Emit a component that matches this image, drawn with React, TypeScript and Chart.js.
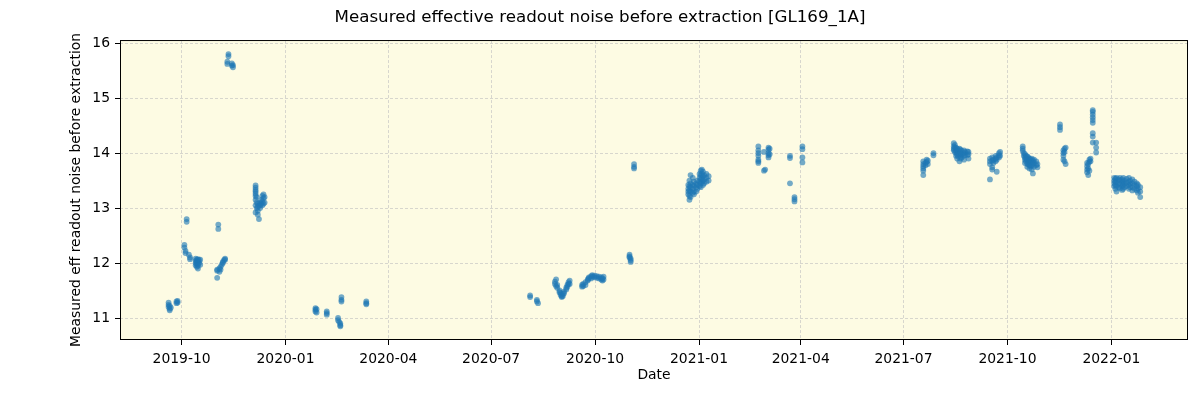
import React, { useEffect, useRef } from "react";
import { Chart, registerables } from "chart.js";

Chart.register(...registerables);

const chartTitle = "Measured effective readout noise before extraction [GL169_1A]";
const xAxisTitle = "Date";
const yAxisTitle = "Measured eff readout noise before extraction";

const xTickLabels = [
  "2019-10", "2020-01", "2020-04", "2020-07", "2020-10",
  "2021-01", "2021-04", "2021-07", "2021-10", "2022-01",
];
const yTickValues = [11, 12, 13, 14, 15, 16];
const xRange = ["2019-08-07T12:00", "2022-03-09T19:00"];
const yRange = [10.6, 16.055];

// one entry per observing night
const obsDates = [
  "2019-09-19", "2019-09-20", "2019-09-21", "2019-09-26", "2019-09-27",
  "2019-10-03", "2019-10-04", "2019-10-05", "2019-10-07", "2019-10-08",
  "2019-10-13", "2019-10-14", "2019-10-15", "2019-10-16", "2019-10-17",
  "2019-11-01", "2019-11-02", "2019-11-03", "2019-11-04", "2019-11-05",
  "2019-11-06", "2019-11-07", "2019-11-08", "2019-11-10", "2019-11-11",
  "2019-11-14", "2019-11-15",
  "2019-12-05", "2019-12-06", "2019-12-07", "2019-12-08", "2019-12-09",
  "2019-12-10", "2019-12-11", "2019-12-12", "2019-12-13",
  "2020-01-27", "2020-01-28", "2020-02-06", "2020-02-16", "2020-02-17",
  "2020-02-18", "2020-02-19", "2020-03-12",
  "2020-08-04", "2020-08-10", "2020-08-11", "2020-08-26", "2020-08-27",
  "2020-08-28", "2020-08-30", "2020-08-31", "2020-09-01", "2020-09-02",
  "2020-09-03", "2020-09-05", "2020-09-06", "2020-09-07", "2020-09-08",
  "2020-09-19", "2020-09-20", "2020-09-22", "2020-09-24", "2020-09-25",
  "2020-09-27", "2020-09-28", "2020-09-30", "2020-10-02", "2020-10-04",
  "2020-10-06", "2020-10-07", "2020-10-08", "2020-10-31", "2020-11-01",
  "2020-11-04",
  "2020-12-22", "2020-12-23", "2020-12-24", "2020-12-26", "2020-12-27",
  "2020-12-29", "2020-12-30", "2021-01-01", "2021-01-02", "2021-01-03",
  "2021-01-04", "2021-01-05", "2021-01-07", "2021-01-09",
  "2021-02-22", "2021-02-27", "2021-02-28", "2021-03-03", "2021-03-04",
  "2021-03-22", "2021-03-26", "2021-04-02",
  "2021-07-18", "2021-07-20", "2021-07-21", "2021-07-22", "2021-07-27",
  "2021-08-14", "2021-08-15", "2021-08-16", "2021-08-17", "2021-08-18",
  "2021-08-19", "2021-08-20", "2021-08-21", "2021-08-23", "2021-08-24",
  "2021-08-26", "2021-08-27",
  "2021-09-15", "2021-09-17", "2021-09-18", "2021-09-20", "2021-09-21",
  "2021-09-23", "2021-09-24",
  "2021-10-14", "2021-10-15", "2021-10-16", "2021-10-17", "2021-10-18",
  "2021-10-19", "2021-10-20", "2021-10-21", "2021-10-22", "2021-10-23",
  "2021-10-24", "2021-10-26", "2021-10-27",
  "2021-11-16", "2021-11-19", "2021-11-20", "2021-11-21",
  "2021-12-10", "2021-12-11", "2021-12-12", "2021-12-13", "2021-12-15",
  "2021-12-18",
  "2022-01-03", "2022-01-04", "2022-01-05", "2022-01-07", "2022-01-08",
  "2022-01-10", "2022-01-11", "2022-01-12", "2022-01-14", "2022-01-16",
  "2022-01-17", "2022-01-19", "2022-01-21", "2022-01-23", "2022-01-24",
  "2022-01-26",
];

// measured noise values of each night, same order as obsDates
const noiseByNight = [
  [11.28, 11.24, 11.2], [11.22, 11.17, 11.14], [11.19], [11.3, 11.27], [11.31, 11.28],
  [12.33, 12.28], [12.22, 12.18], [12.8, 12.75], [12.15], [12.1, 12.07],
  [12.08, 12.04, 12.0, 11.96], [12.06, 12.02, 11.98, 11.93], [12.07, 12.03, 11.99, 11.95, 11.9], [12.05, 12.0], [12.06, 11.97],
  [11.88, 11.86, 11.73], [12.7, 12.62], [11.9, 11.84], [11.93, 11.88], [11.97],
  [12.0, 12.02], [12.05], [12.08, 12.06], [15.66, 15.62], [15.8, 15.76],
  [15.63, 15.59], [15.6, 15.56],
  [13.41, 13.37, 13.33, 13.3, 13.26, 13.22, 13.15, 13.05, 12.92], [13.2, 13.1, 13.0], [13.08, 13.02, 12.95, 12.88], [13.05, 12.8], [13.1, 13.05, 13.0],
  [13.15, 13.08], [13.22, 13.12, 13.05], [13.25, 13.18, 13.08], [13.2, 13.1],
  [11.18, 11.15, 11.12], [11.16, 11.1], [11.12, 11.09, 11.06], [11.0, 10.96], [10.93],
  [10.9, 10.87, 10.85], [11.38, 11.33, 11.3], [11.3, 11.27, 11.25],
  [11.41, 11.38], [11.33, 11.3], [11.27], [11.66, 11.62], [11.7, 11.58],
  [11.6, 11.55], [11.5, 11.47], [11.45, 11.42], [11.4, 11.38], [11.44, 11.4],
  [11.48, 11.45], [11.55, 11.52], [11.6, 11.57], [11.62, 11.65], [11.68, 11.62],
  [11.6, 11.57], [11.62, 11.58], [11.6, 11.65], [11.7, 11.68], [11.74, 11.72],
  [11.76, 11.72], [11.78, 11.75], [11.77, 11.74], [11.76, 11.73], [11.75, 11.72],
  [11.74, 11.7], [11.72, 11.68], [11.75, 11.7], [12.15, 12.12, 12.1], [12.08, 12.05, 12.02],
  [13.8, 13.75, 13.72],
  [13.42, 13.35, 13.3, 13.25], [13.5, 13.4, 13.32, 13.22, 13.15], [13.6, 13.45, 13.38, 13.3, 13.2], [13.55, 13.42, 13.35, 13.28], [13.48, 13.4, 13.3, 13.25],
  [13.45, 13.38, 13.3], [13.5, 13.42, 13.35], [13.62, 13.55, 13.48, 13.4], [13.68, 13.6, 13.52, 13.45, 13.38], [13.7, 13.62, 13.55, 13.48],
  [13.66, 13.58, 13.5, 13.42], [13.6, 13.52, 13.45], [13.62, 13.55, 13.48], [13.58, 13.5],
  [14.12, 14.05, 14.0, 13.95, 13.88, 13.85, 13.82], [14.02, 13.68], [13.7], [14.1, 14.06, 14.0, 13.96, 13.92], [14.08, 13.98],
  [13.95, 13.91, 13.45], [13.2, 13.16, 13.12], [14.12, 14.07, 13.92, 13.83],
  [13.85, 13.8, 13.76, 13.72, 13.68, 13.6], [13.82, 13.78], [13.88, 13.84], [13.8, 13.86], [14.0, 13.96],
  [14.18, 14.12, 14.08, 14.05], [14.15, 14.1, 14.02], [14.1, 14.05, 14.0, 13.95], [14.08, 14.02, 13.97, 13.9], [14.05, 14.0, 13.94],
  [14.08, 13.98, 13.85], [14.06, 14.0, 13.95, 13.9], [14.04, 13.98, 13.92], [14.05, 14.0, 13.95, 13.88], [14.02, 13.97],
  [14.03, 13.96], [14.02, 13.98, 13.9],
  [13.9, 13.85, 13.8, 13.52], [13.92, 13.86, 13.74, 13.7], [13.88, 13.82], [13.95, 13.9, 13.85], [13.92, 13.88, 13.66],
  [14.0, 13.96, 13.92], [14.02, 13.95],
  [14.12, 14.08, 14.04], [14.0, 13.95], [13.98, 13.92, 13.88, 13.82], [13.95, 13.9, 13.85], [13.94, 13.88, 13.8, 13.75],
  [13.92, 13.86, 13.8], [13.9, 13.84, 13.78, 13.72], [13.88, 13.82, 13.76], [13.9, 13.85, 13.78, 13.7], [13.86, 13.8, 13.63],
  [13.88, 13.82, 13.75], [13.85, 13.78], [13.8, 13.74],
  [14.52, 14.47, 14.42], [14.05, 14.0, 13.95, 13.88], [14.08, 14.02, 13.85], [14.1, 13.8],
  [13.82, 13.76, 13.7, 13.65], [13.8, 13.72, 13.6], [13.88, 13.84, 13.68], [13.9, 13.85],
  [14.78, 14.75, 14.7, 14.65, 14.6, 14.55, 14.36, 14.3, 14.19],
  [14.19, 14.1, 14.01],
  [13.55, 13.5, 13.45, 13.4], [13.53, 13.48, 13.42, 13.35], [13.55, 13.47, 13.4, 13.3], [13.52, 13.45, 13.38], [13.55, 13.5, 13.43, 13.36],
  [13.52, 13.46, 13.4, 13.33], [13.55, 13.48, 13.42, 13.35], [13.5, 13.44, 13.38], [13.53, 13.46, 13.4], [13.55, 13.48, 13.42, 13.35],
  [13.5, 13.44, 13.38], [13.52, 13.45, 13.38, 13.32], [13.48, 13.42, 13.35], [13.45, 13.4, 13.32], [13.42, 13.35, 13.28],
  [13.38, 13.3, 13.2],
];

const FONT = "'DejaVu Sans', sans-serif";
const plotBackground = "#fdfbe3";
const gridColor = "#cdcdc8";
const pointColor = "rgba(31, 119, 180, 0.62)";

const toMs = (d: string) =>
  Date.parse(d.length === 10 ? `${d}T12:00:00Z` : `${d}:00Z`);
const monthMs = (label: string) => Date.parse(`${label}-01T00:00:00Z`);

const framePlugin = {
  id: "plotFrame",
  beforeDraw(chart: any) {
    const { ctx, chartArea: a } = chart;
    ctx.save();
    ctx.fillStyle = plotBackground;
    ctx.fillRect(a.left, a.top, a.right - a.left, a.bottom - a.top);
    ctx.restore();
  },
  afterDraw(chart: any) {
    const { ctx, chartArea: a } = chart;
    ctx.save();
    ctx.strokeStyle = "#000";
    ctx.lineWidth = 1;
    ctx.setLineDash([]);
    ctx.strokeRect(a.left + 0.5, a.top + 0.5, a.right - a.left - 1, a.bottom - a.top - 1);
    ctx.restore();
  },
};

export default function App() {
  const canvasRef = useRef<HTMLCanvasElement | null>(null);

  useEffect(() => {
    document.body.style.margin = "0";
    const canvas = canvasRef.current;
    if (!canvas) return;

    const points: { x: number; y: number }[] = [];
    obsDates.forEach((d, i) => {
      noiseByNight[i].forEach((v) => points.push({ x: toMs(d), y: v }));
    });

    const xTickValues = xTickLabels.map(monthMs);

    const chart = new Chart(canvas, {
      type: "scatter",
      data: {
        datasets: [
          {
            data: points,
            xAxisID: "x",
            yAxisID: "y",
            backgroundColor: pointColor,
            borderWidth: 0,
            pointRadius: 2.9,
            pointHoverRadius: 2.9,
          },
        ],
      },
      plugins: [framePlugin],
      options: {
        animation: false,
        responsive: true,
        maintainAspectRatio: false,
        events: [],
        layout: { padding: 0 },
        plugins: {
          legend: { display: false },
          tooltip: { enabled: false },
          title: {
            display: true,
            text: chartTitle,
            color: "#000",
            font: { family: FONT, size: 16.7, weight: "normal" },
            padding: { top: 7.5, bottom: 12.5 },
          },
        },
        scales: {
          x: {
            type: "linear",
            min: toMs(xRange[0]),
            max: toMs(xRange[1]),
            afterBuildTicks: (scale: any) => {
              scale.ticks = xTickValues.map((v) => ({ value: v }));
            },
            afterFit: (scale: any) => {
              scale.height = 60;
            },
            ticks: {
              autoSkip: false,
              maxRotation: 0,
              minRotation: 0,
              padding: 6,
              color: "#000",
              font: { family: FONT, size: 13.9 },
              callback: (_v: any, i: number) => xTickLabels[i],
            },
            grid: {
              color: gridColor,
              lineWidth: 0.8,
              tickColor: "#000",
              tickLength: 5,
              tickWidth: 1,
              tickBorderDash: [],
            },
            border: { display: false, dash: [3, 2] },
            title: {
              display: true,
              text: xAxisTitle,
              color: "#000",
              font: { family: FONT, size: 13.9 },
              padding: { top: 0, bottom: 16 },
            },
          },
          y: {
            type: "linear",
            position: "left",
            min: yRange[0],
            max: yRange[1],
            afterBuildTicks: (scale: any) => {
              scale.ticks = yTickValues.map((v) => ({ value: v }));
            },
            afterFit: (scale: any) => {
              scale.width = 120;
            },
            ticks: {
              padding: 5,
              color: "#000",
              font: { family: FONT, size: 13.9 },
              callback: (v: any) => String(v),
            },
            grid: {
              color: gridColor,
              lineWidth: 0.8,
              tickColor: "#000",
              tickLength: 5,
              tickWidth: 1,
              tickBorderDash: [],
            },
            border: { display: false, dash: [3, 2] },
            title: {
              display: true,
              text: yAxisTitle,
              color: "#000",
              font: { family: FONT, size: 13.9 },
              padding: { top: 68.5, bottom: 0 },
            },
          },
          rightMargin: {
            type: "linear",
            position: "right",
            display: true,
            min: yRange[0],
            max: yRange[1],
            afterFit: (scale: any) => {
              scale.width = 12;
            },
            ticks: { display: false },
            grid: { display: false, drawTicks: false },
            border: { display: false },
            title: { display: false },
          },
        },
      } as any,
    });

    return () => chart.destroy();
  }, []);

  return (
    <div style={{ position: "relative", width: "1200px", height: "400px", background: "#fff" }}>
      <canvas ref={canvasRef} />
    </div>
  );
}
